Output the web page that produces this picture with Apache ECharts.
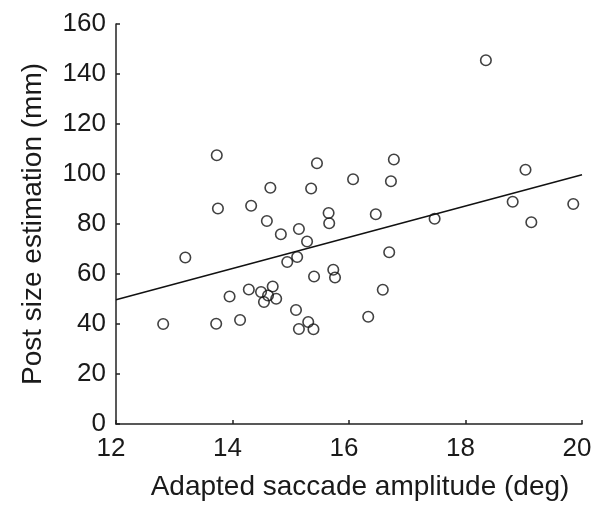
<!DOCTYPE html>
<html>
<head>
<meta charset="utf-8">
<script src="https://cdn.jsdelivr.net/npm/echarts@6/dist/echarts.min.js"></script>
<style>
html,body{margin:0;padding:0;background:#fff;}
#chart{width:603px;height:506px;}
</style>
</head>
<body>
<div id="chart"></div>
<script>
// Adapted saccade amplitude (deg)
const amplitude = [18.35,13.73,15.45,16.77,19.03,16.07,16.72,14.65,15.35,13.75,14.32,18.81,19.85,15.65,16.46,17.47,14.59,15.66,19.13,15.14,14.83,15.28,16.69,13.19,15.11,14.94,15.73,15.40,15.76,14.69,14.28,16.58,14.49,14.61,13.95,14.75,14.54,15.09,16.33,14.13,15.30,12.81,13.72,15.14,15.39];
// Post size estimation (mm)
const estimation = [145.5,107.5,104.3,105.8,101.7,97.9,97.1,94.5,94.2,86.2,87.3,88.9,88.0,84.4,83.9,82.1,81.2,80.3,80.7,78.0,75.9,73.0,68.7,66.6,66.8,64.8,61.7,59.0,58.6,55.0,53.8,53.7,52.8,51.4,51.0,50.1,48.8,45.6,42.9,41.6,40.8,40.0,40.1,38.0,37.9];
// Fitted regression line endpoints
const fitX = [12, 20];
const fitY = [49.7, 99.7];

const xTicks = [12, 14, 16, 18, 20];
const yTicks = [0, 20, 40, 60, 80, 100, 120, 140, 160];

const chart = echarts.init(document.getElementById('chart'));
const textColor = '#1a1a1a';
const font = 'Liberation Sans, Arial, Helvetica, sans-serif';
chart.setOption({
  animation: false,
  grid: {left: 116, right: 21, top: 24, bottom: 80},
  xAxis: {
    type: 'value', min: xTicks[0], max: xTicks[xTicks.length-1], interval: 2,
    name: 'Adapted saccade amplitude (deg)', nameLocation: 'middle', nameGap: 49,
    nameTextStyle: {fontSize: 28, color: textColor, fontFamily: font, padding: [0,0,0,22]},
    axisLine: {lineStyle: {color: '#222', width: 1.5}},
    axisTick: {inside: true, length: 4, lineStyle: {color: '#222', width: 1.5}},
    axisLabel: {fontSize: 26, color: textColor, fontFamily: font, margin: 12, padding: [0,10,0,0]},
    splitLine: {show: false}
  },
  yAxis: {
    type: 'value', min: yTicks[0], max: yTicks[yTicks.length-1], interval: 20,
    name: 'Post size estimation (mm)', nameLocation: 'middle', nameGap: 69,
    nameTextStyle: {fontSize: 28, color: textColor, fontFamily: font},
    axisLine: {show: true, lineStyle: {color: '#222', width: 1.5}},
    axisTick: {show: true, inside: true, length: 4, lineStyle: {color: '#222', width: 1.5}},
    axisLabel: {fontSize: 26, color: textColor, fontFamily: font, margin: 10},
    splitLine: {show: false}
  },
  series: [
    {
      type: 'line',
      data: fitX.map((x, i) => [x, fitY[i]]),
      showSymbol: false,
      lineStyle: {color: '#111', width: 1.5},
      z: 1
    },
    {
      type: 'scatter',
      data: amplitude.map((x, i) => [x, estimation[i]]),
      symbol: 'circle',
      symbolSize: 10.5,
      itemStyle: {color: 'rgba(255,255,255,0)', borderColor: '#111', borderWidth: 1.6},
      z: 2
    }
  ]
});
</script>
</body>
</html>
